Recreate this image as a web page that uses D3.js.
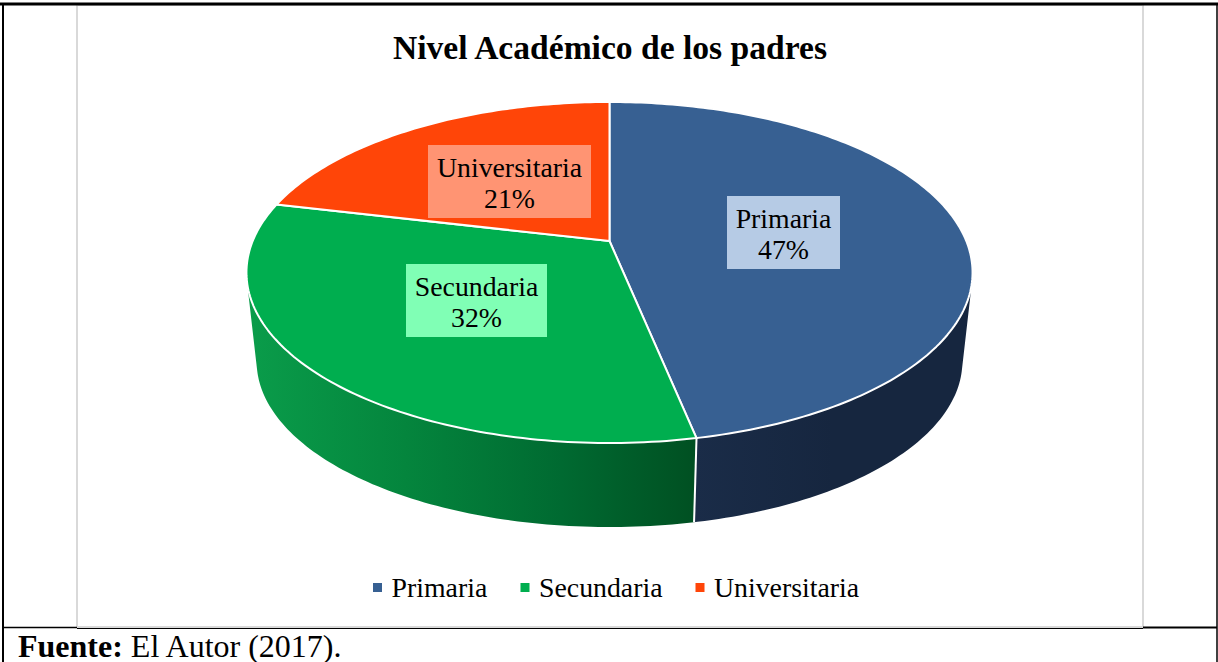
<!DOCTYPE html>
<html>
<head>
<meta charset="utf-8">
<script src="https://cdn.jsdelivr.net/npm/d3@7"></script>
<style>
  html, body { margin: 0; padding: 0; background: #fff; overflow: hidden; }
  svg { display: block; }
  text { font-family: "Liberation Serif", serif; fill: #000; }
</style>
</head>
<body>
<svg id="chart" width="1218" height="662"></svg>
<script>
var title = 'Nivel Académico de los padres';
var categories = ['Primaria', 'Secundaria', 'Universitaria'];
// slice sizes, the labels print them rounded
var values = [46.8, 31.9, 21.3];
var colors = ['#376092', '#00ae4f', '#ff4508'];
var labelFills = ['#b6cbe5', '#80ffb5', '#ff9473'];

var svg = d3.select('#chart');
var defs = svg.append('defs');

// table frame round the chart
var frame = svg.append('g');
frame.append('rect').attr('x', 77).attr('y', 5).attr('width', 1066).attr('height', 622)
    .attr('fill', '#fff').attr('stroke', '#d9d9d9').attr('stroke-width', 2);
frame.append('line').attr('x1', 0).attr('x2', 1218).attr('y1', 4).attr('y2', 4)
    .attr('stroke', '#000').attr('stroke-width', 3);
frame.append('line').attr('x1', 3).attr('x2', 3).attr('y1', 4).attr('y2', 662)
    .attr('stroke', '#000').attr('stroke-width', 2);
frame.append('line').attr('x1', 1217).attr('x2', 1217).attr('y1', 4).attr('y2', 662)
    .attr('stroke', '#000').attr('stroke-width', 1.5);
frame.append('line').attr('x1', 3).attr('x2', 77).attr('y1', 627.5).attr('y2', 627.5)
    .attr('stroke', '#000').attr('stroke-width', 1.5);
frame.append('line').attr('x1', 77).attr('x2', 1143).attr('y1', 628.5).attr('y2', 628.5)
    .attr('stroke', '#000').attr('stroke-width', 1);
frame.append('line').attr('x1', 1143).attr('x2', 1217).attr('y1', 627.5).attr('y2', 627.5)
    .attr('stroke', '#000').attr('stroke-width', 2);

svg.append('text').text(title)
    .attr('x', 610).attr('y', 59).attr('text-anchor', 'middle')
    .attr('font-size', 33.6).attr('font-weight', 'bold');

// perspective pie: the disc is tilted, so its centre sits above the middle of the ellipse
var cx = 609.5, cy = 241;
var tilt = 0.1847;
var radiusX = 356.8, radiusY = 164.7;
var depth = 89.7, baseScale = 0.972;

function project(angle, offset, scale) {
    var u = Math.sin(angle), v = -Math.cos(angle);
    var d = 1 - tilt * v;
    return [cx + scale * radiusX * u / d, cy + offset + scale * radiusY * v / d];
}

var pie = d3.pie().sort(null);
var arcs = pie(values);
var step = Math.PI / 180;

function rimPoints(a, offset, scale) {
    return d3.range(a.startAngle, a.endAngle, step).concat(a.endAngle).map(function (t) {
        return project(t, offset, scale);
    });
}

// gradients of the side wall
var sideGradients = [
    { id: 'side0', stops: [[0, '#1a2c48'], [0.5, '#16263f'], [1, '#16263f']], x1: 694, x2: 972 },
    { id: 'side1', stops: [[0, '#0a9c4a'], [0.35, '#04853d'], [0.7, '#006a31'], [1, '#005022']], x1: 250, x2: 695 }
];
sideGradients.forEach(function (g) {
    var grad = defs.append('linearGradient').attr('id', g.id)
        .attr('gradientUnits', 'userSpaceOnUse')
        .attr('x1', g.x1).attr('x2', g.x2).attr('y1', 0).attr('y2', 0);
    g.stops.forEach(function (s) {
        grad.append('stop').attr('offset', s[0]).attr('stop-color', s[1]);
    });
});

var line = d3.line();

// side wall, thin quads in one path (same winding) so the outline follows both rims without seams
var side = svg.append('g');
arcs.slice(0, 2).forEach(function (a, i) {
    var top = rimPoints(a, 0, 1);
    var bottom = rimPoints(a, depth, baseScale);
    var wall = d3.range(top.length - 1).map(function (k) {
        var quad = [top[k], top[k + 1], bottom[k + 1], bottom[k]];
        if (d3.polygonArea(quad) < 0) quad.reverse();
        return line(quad) + 'Z';
    }).join('');
    side.append('path')
        .attr('d', wall)
        .attr('fill', 'url(#side' + i + ')');
});

// white seam on the wall between the two front slices
var seam = arcs[0].endAngle;
svg.append('path')
    .attr('d', line([project(seam, 0, 1), project(seam, depth, baseScale)]))
    .attr('stroke', '#fff').attr('stroke-width', 2).attr('fill', 'none');

// top face
svg.append('g')
    .selectAll('path')
    .data(arcs)
    .enter()
        .append('path')
        .attr('d', function (d) { return line([[cx, cy]].concat(rimPoints(d, 0, 1))) + 'Z'; })
        .attr('fill', function (d, i) { return colors[i]; })
        .attr('stroke', '#fff')
        .attr('stroke-width', 2)
        .attr('stroke-linejoin', 'round');

// data labels
var labelBoxes = [
    { x: 727, y: 196, w: 113, h: 73 },
    { x: 406, y: 264, w: 141, h: 73 },
    { x: 428, y: 145, w: 163, h: 73 }
];
var labels = svg.append('g').selectAll('g')
    .data(labelBoxes)
    .enter()
        .append('g');
labels.append('rect')
    .attr('x', function (d) { return d.x; })
    .attr('y', function (d) { return d.y; })
    .attr('width', function (d) { return d.w; })
    .attr('height', function (d) { return d.h; })
    .attr('fill', function (d, i) { return labelFills[i]; });
labels.append('text')
    .text(function (d, i) { return categories[i]; })
    .attr('x', function (d) { return d.x + d.w / 2; })
    .attr('y', function (d) { return d.y + 31.5; })
    .attr('text-anchor', 'middle')
    .attr('font-size', 27.8);
labels.append('text')
    .text(function (d, i) { return Math.round(values[i]) + '%'; })
    .attr('x', function (d) { return d.x + d.w / 2; })
    .attr('y', function (d) { return d.y + 63; })
    .attr('text-anchor', 'middle')
    .attr('font-size', 27.8);

// legend
var legendX = [373, 520.5, 695.5];
var legend = svg.append('g').selectAll('g')
    .data(categories)
    .enter()
        .append('g')
        .attr('transform', function (d, i) { return 'translate(' + legendX[i] + ',588)'; });
legend.append('rect')
    .attr('x', 0).attr('y', -5).attr('width', 9).attr('height', 9)
    .attr('fill', function (d, i) { return colors[i]; });
legend.append('text')
    .text(function (d) { return d; })
    .attr('x', 18.5).attr('y', 9)
    .attr('font-size', 27.8);

// source line
var source = svg.append('text').attr('x', 18).attr('y', 656.5).attr('font-size', 32);
source.append('tspan').attr('font-weight', 'bold').text('Fuente:');
source.append('tspan').text(' El Autor (2017).');
</script>
</body>
</html>
